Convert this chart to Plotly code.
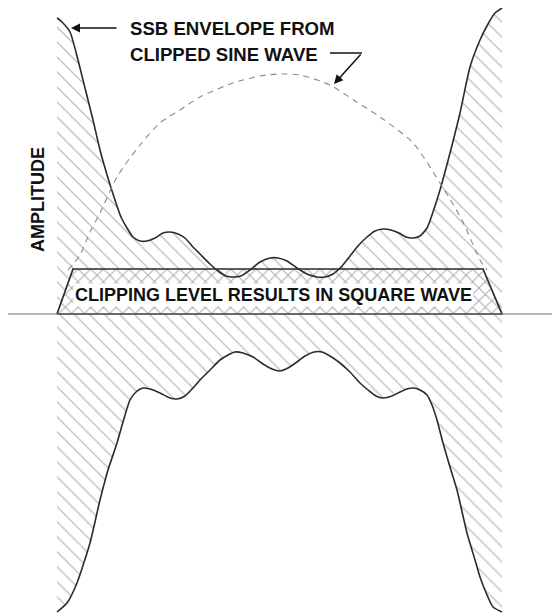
import plotly.graph_objects as go

# ---- data (time in arbitrary units, amplitude above/below baseline) ----
upper_t = [57, 62, 70, 78, 85, 93, 100, 108, 115, 121, 127, 133, 140, 147, 155, 163, 170, 178, 185,
           193, 200, 210, 218, 226, 233, 241, 250, 260, 270, 278, 287, 297, 307, 317, 325, 333, 342,
           350, 358, 367, 375, 383, 391, 399, 406, 413, 420, 427, 433, 440, 450, 460, 470, 480, 488,
           495, 502]
upper_amp = [296, 292, 282, 254, 226, 194, 164, 136, 114, 97, 86, 77, 73, 73, 76, 81, 82, 80, 76,
             67, 60, 50, 43, 38, 37, 38, 44, 52, 56, 56, 53, 46, 40, 37, 37, 40, 48,
             58, 68, 77, 83, 85, 84, 81, 77, 76, 78, 86, 102, 124, 161, 201, 247, 274, 290,
             301, 306]

lower_t = [57, 67, 77, 90, 100, 108, 117, 125, 130, 136, 143, 150, 160, 170, 177, 185, 193, 200,
           210, 220, 228, 235, 243, 253, 263, 272, 280, 288, 297, 305, 314, 322, 330, 340, 350,
           360, 368, 376, 383, 392, 400, 407, 413, 420, 427, 432, 437, 443, 450, 457, 467, 475,
           480, 487, 493, 502]
lower_amp = [-298, -289, -269, -229, -186, -156, -129, -101, -86, -78, -74, -75, -79, -84, -85, -82,
             -74, -66, -56, -46, -41, -38, -39, -43, -50, -55, -57, -54, -48, -42, -38, -38, -42,
             -49, -58, -69, -76, -82, -84, -82, -78, -75, -74, -76, -81, -91, -106, -129, -153,
             -176, -219, -246, -263, -281, -293, -298]

sine_t = [68, 80, 90, 100, 117, 140, 160, 180, 200, 233, 260, 280, 300, 330, 355, 380, 413, 440,
          462, 480, 487]
sine_amp = [44, 59, 82, 101, 137, 169, 191, 204, 217, 231, 238, 240, 239, 229, 213, 197, 171, 131,
            94, 54, 44]

clip_t = [57, 73, 483, 502, 57]
clip_amp = [0, 45, 45, 0, 0]

label_clip = "CLIPPING LEVEL RESULTS IN SQUARE WAVE"
label_env_1 = "SSB ENVELOPE FROM"
label_env_2 = "CLIPPED SINE WAVE"
label_y = "AMPLITUDE"

FONT = "Liberation Sans, Arial, sans-serif"
INK = "#111111"
HATCH = "#7c7c7c"

fig = go.Figure()

# hatched area under the envelope (upper and lower)
for t, a in ((upper_t, upper_amp), (lower_t, lower_amp)):
    fig.add_trace(go.Scatter(
        x=t, y=a, mode="lines", line=dict(width=0, color="rgba(0,0,0,0)"),
        fill="tozeroy", fillcolor="rgba(0,0,0,0)",
        fillpattern=dict(shape="\\", fgcolor=HATCH, bgcolor="white", size=10.6, solidity=0.12),
        hoverinfo="skip", showlegend=False))

# clipping level (square wave) cross-hatched trapezoid
fig.add_trace(go.Scatter(
    x=clip_t, y=clip_amp, mode="lines", line=dict(width=1.7, color="#2a2a2a"),
    fill="toself", fillcolor="rgba(0,0,0,0)",
    fillpattern=dict(shape="x", fgcolor="#5e5e5e", bgcolor="white", size=9, solidity=0.23),
    hoverinfo="skip", showlegend=False))

# envelope outlines
for t, a in ((upper_t, upper_amp), (lower_t, lower_amp)):
    fig.add_trace(go.Scatter(
        x=t, y=a, mode="lines", line=dict(width=1.6, color="#2b2b2b", shape="spline", smoothing=0.6),
        hoverinfo="skip", showlegend=False))

# original sine wave (dashed)
fig.add_trace(go.Scatter(
    x=sine_t, y=sine_amp, mode="lines",
    line=dict(width=1.1, color="#8a8a8a", dash="6px,5px", shape="spline", smoothing=0.8),
    hoverinfo="skip", showlegend=False))

# baseline
fig.add_shape(type="line", x0=5, x1=560, y0=0, y1=0, line=dict(color="#777777", width=1.2))

# labels
fig.add_annotation(x=273, y=19.5, text=label_clip, showarrow=False,
                   font=dict(family=FONT, size=18, color=INK, weight="bold"),
                   bgcolor="white", borderpad=1)
fig.add_annotation(x=38, y=114, text=label_y, textangle=-90, showarrow=False,
                   font=dict(family=FONT, size=18, color=INK, weight="bold"))
fig.add_annotation(x=128, y=286, text=label_env_1, xanchor="left", showarrow=False,
                   font=dict(family=FONT, size=18.6, color=INK, weight="bold"))
fig.add_annotation(x=128, y=260, text=label_env_2, xanchor="left", showarrow=False,
                   font=dict(family=FONT, size=18.6, color=INK, weight="bold"))

# leader arrows
fig.add_annotation(x=71, y=286, ax=118, ay=286, axref="x", ayref="y", text="",
                   showarrow=True, arrowhead=2, arrowsize=1.2, arrowwidth=1.5, arrowcolor=INK)
fig.add_shape(type="line", x0=330, x1=362, y0=261, y1=261, line=dict(color=INK, width=1.5))
fig.add_annotation(x=334, y=230, ax=362, ay=261, axref="x", ayref="y", text="",
                   showarrow=True, arrowhead=2, arrowsize=1.2, arrowwidth=1.5, arrowcolor=INK)

# the page body has an 8px margin: shrink the figure and shift the ranges to compensate
fig.update_xaxes(visible=False, range=[8, 560], fixedrange=True)
fig.update_yaxes(visible=False, range=[-299, 306], fixedrange=True)
fig.update_layout(width=552, height=605, margin=dict(l=0, r=0, t=0, b=0),
                  paper_bgcolor="white", plot_bgcolor="white", showlegend=False)

fig.write_html("out.html")
